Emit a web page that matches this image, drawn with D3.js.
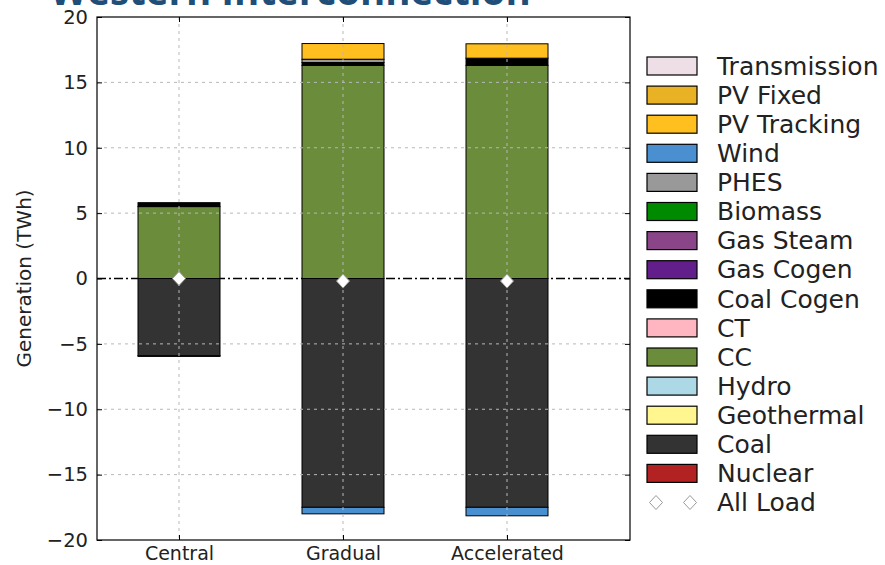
<!DOCTYPE html>
<html><head><meta charset="utf-8">
<script src="https://cdn.jsdelivr.net/npm/d3@7"></script>
<style>body{margin:0;background:#fff;} svg{display:block;}</style>
</head><body>
<svg id="chart" width="885" height="565"></svg>
<script>
// ---- data ----
const categories = ["Central", "Gradual", "Accelerated"];
const techs = ["Nuclear","Coal","Geothermal","Hydro","CC","CT","Coal Cogen","Gas Cogen","Gas Steam","Biomass","PHES","Wind","PV Tracking","PV Fixed","Transmission"];
const techColors = ["#b22222","#333333","#fff68f","#add8e6","#6b8c3a","#ffb6c1","#000000","#621e8a","#8a4589","#008a00","#999999","#4a8fd0","#ffbf1f","#e9b224","#eedfe6"];
const nuclear     = [0, 0, 0];
const coal        = [-5.9, -17.5, -17.5];
const geothermal  = [0, 0, 0];
const hydro       = [0, 0, 0];
const cc          = [5.5, 16.3, 16.3];
const ct          = [0, 0, 0];
const coalCogen   = [0.3, 0.22, 0.55];
const gasCogen    = [0, 0, 0];
const gasSteam    = [0, 0, 0];
const biomass     = [0, 0, 0];
const phes        = [0, 0.25, 0];
const wind        = [-0.06, -0.5, -0.65];
const pvTracking  = [0, 1.2, 1.1];
const pvFixed     = [0, 0, 0];
const transmission= [0, 0, 0];
const allLoad     = [0, -0.2, -0.2];
const yTicks = [-20, -15, -10, -5, 0, 5, 10, 15, 20];

const seriesValues = [nuclear, coal, geothermal, hydro, cc, ct, coalCogen, gasCogen, gasSteam, biomass, phes, wind, pvTracking, pvFixed, transmission];
const table = categories.map((c, i) => {
  const row = {cat: c};
  techs.forEach((t, j) => row[t] = seriesValues[j][i]);
  return row;
});

// ---- layout ----
const svg = d3.select("#chart");
const L = 97, R = 630, T = 17, B = 540;
const x = d3.scaleLinear().domain([-0.5, 2.75]).range([L, R]);
const y = d3.scaleLinear().domain([-20, 20]).range([B, T]);
const barW = x(0.5) - x(0);
const font = "DejaVu Sans, sans-serif";

// title (cropped at top, as in the reference)
svg.append("text").attr("x", 50).attr("y", 5)
  .attr("font-family", "Open Sans, sans-serif").attr("font-weight", "bold")
  .attr("font-size", 38.5).attr("fill", "#1f4e79").text("Western Interconnection");

// zero dash-dot line
svg.append("line").attr("x1", L).attr("x2", R).attr("y1", y(0)).attr("y2", y(0))
  .attr("stroke", "#000").attr("stroke-width", 1.5).attr("stroke-dasharray", "9,3,2,3");

// bars
const stack = d3.stack().keys(techs).offset(d3.stackOffsetDiverging);
const stacked = stack(table);
const g = svg.append("g");
stacked.forEach((s, j) => {
  g.selectAll(null).data(s.filter(d => d[1] - d[0] !== 0)).join("rect")
    .attr("x", d => x(categories.indexOf(d.data.cat)) - barW / 2)
    .attr("width", barW)
    .attr("y", d => y(Math.max(d[0], d[1])))
    .attr("height", d => Math.abs(y(d[0]) - y(d[1])))
    .attr("fill", techColors[j]).attr("stroke", "#000").attr("stroke-width", 1);
});

// grid (on top, classic style)
const grid = svg.append("g").attr("stroke", "#b8b8b8").attr("stroke-width", 1).attr("stroke-dasharray", "3,4");
yTicks.slice(1, -1).forEach(v => {
  if (v === 0) return;
  grid.append("line").attr("x1", L).attr("x2", R).attr("y1", y(v)).attr("y2", y(v));
});
categories.forEach((c, i) => {
  grid.append("line").attr("x1", x(i)).attr("x2", x(i)).attr("y1", T).attr("y2", B);
});

// load markers
svg.selectAll(".load").data(allLoad).join("path")
  .attr("transform", (d, i) => `translate(${x(i)},${y(d)})`)
  .attr("d", "M0,-7L6.5,0L0,7L-6.5,0Z")
  .attr("fill", "#fff").attr("stroke", "#999").attr("stroke-width", 1);

// frame
svg.append("rect").attr("x", L).attr("y", T).attr("width", R - L).attr("height", B - T)
  .attr("fill", "none").attr("stroke", "#000").attr("stroke-width", 1.2);

// y axis
const ya = svg.append("g").attr("transform", `translate(${L},0)`)
  .call(d3.axisLeft(y).tickValues(yTicks).tickSizeInner(-5).tickSizeOuter(0).tickPadding(9).tickFormat(d => d < 0 ? "\u2212" + Math.abs(d) : d));
ya.select(".domain").remove();
ya.selectAll("text").attr("font-family", font).attr("font-size", 19.5).attr("fill", "#222");
svg.append("g").attr("transform", `translate(${R},0)`)
  .call(d3.axisRight(y).tickValues(yTicks).tickSizeInner(-5).tickSizeOuter(0).tickFormat(""))
  .select(".domain").remove();

// x axis
const xa = svg.append("g").attr("transform", `translate(0,${B})`)
  .call(d3.axisBottom(x).tickValues([0, 1, 2]).tickSizeInner(-5).tickSizeOuter(0).tickPadding(7).tickFormat(i => categories[i]));
xa.select(".domain").remove();
xa.selectAll("text").attr("font-family", font).attr("font-size", 19).attr("fill", "#222");
svg.append("g").attr("transform", `translate(0,${T})`)
  .call(d3.axisTop(x).tickValues([0, 1, 2]).tickSizeInner(-5).tickSizeOuter(0).tickFormat(""))
  .select(".domain").remove();

// y label
svg.append("text").attr("transform", `translate(31,${(T + B) / 2}) rotate(-90)`)
  .attr("text-anchor", "middle").attr("font-family", font).attr("font-size", 20).attr("fill", "#222")
  .text("Generation (TWh)");

// legend
const legOrder = techs.slice().reverse();
const legColors = techColors.slice().reverse();
const lg = svg.append("g");
const rowY = i => 66 + i * 29.1;
legOrder.forEach((t, i) => {
  lg.append("rect").attr("x", 647).attr("y", rowY(i) - 9).attr("width", 50).attr("height", 18)
    .attr("fill", legColors[i]).attr("stroke", "#000").attr("stroke-width", 1.2);
  lg.append("text").attr("x", 717).attr("y", rowY(i)).attr("dy", "0.35em")
    .attr("font-family", font).attr("font-size", 25).attr("fill", "#222").text(t);
});
const li = legOrder.length;
[656, 690].forEach(cx => {
  lg.append("path").attr("transform", `translate(${cx},${rowY(li)})`)
    .attr("d", "M0,-7L6.5,0L0,7L-6.5,0Z").attr("fill", "#fff").attr("stroke", "#999");
});
lg.append("text").attr("x", 717).attr("y", rowY(li)).attr("dy", "0.35em")
  .attr("font-family", font).attr("font-size", 25).attr("fill", "#222").text("All Load");
</script>
</body></html>
